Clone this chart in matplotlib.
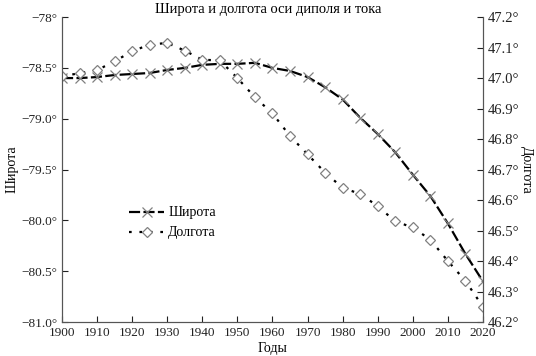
import matplotlib.pyplot as plt
import numpy as np

plt.rcParams['font.family'] = ['Liberation Serif', 'DejaVu Serif']
plt.rcParams['axes.unicode_minus'] = True

# годы и значения
years = [1900, 1905, 1910, 1915, 1920, 1925, 1930, 1935, 1940, 1945, 1950, 1955,
         1960, 1965, 1970, 1975, 1980, 1985, 1990, 1995, 2000, 2005, 2010, 2015, 2020]
lat = [-78.60, -78.60, -78.59, -78.57, -78.56, -78.55, -78.52, -78.50, -78.47, -78.46,
       -78.46, -78.45, -78.50, -78.53, -78.59, -78.69, -78.81, -78.99, -79.15, -79.33,
       -79.55, -79.76, -80.03, -80.33, -80.60]
lon = [47.006, 47.016, 47.026, 47.055, 47.088, 47.110, 47.115, 47.090, 47.060, 47.058,
       47.000, 46.937, 46.884, 46.810, 46.750, 46.690, 46.640, 46.620, 46.580, 46.530,
       46.510, 46.470, 46.400, 46.335, 46.250]

lat_ticks = [-78.0, -78.5, -79.0, -79.5, -80.0, -80.5, -81.0]
lat_labels = ["−78°", "−78.5°", "−79.0°", "−79.5°", "−80.0°", "−80.5°", "−81.0°"]
lon_ticks = [46.2, 46.3, 46.4, 46.5, 46.6, 46.7, 46.8, 46.9, 47.0, 47.1, 47.2]
lon_labels = [f"{v:.1f}°" for v in lon_ticks]
x_ticks = list(range(1900, 2021, 10))

fig = plt.figure(figsize=(5.36, 3.56), dpi=100)
ax = fig.add_axes([0.1157, 0.0955, 0.7853, 0.8565])
ax2 = ax.twinx()

l1, = ax.plot(years, lat, color="black", linestyle=(0, (5, 1.5)), linewidth=1.6,
              marker="x", markersize=6.5, markeredgecolor="#808080", markeredgewidth=0.9,
              label="Широта")
l2, = ax2.plot(years, lon, color="black", linestyle=(0, (1.2, 3.5)), linewidth=1.6,
               marker="D", markersize=5, markerfacecolor="white", markeredgecolor="#808080",
               markeredgewidth=0.9, label="Долгота")

ax.set_xlim(1900, 2020)
ax.set_ylim(-81, -78)
ax2.set_ylim(46.2, 47.2)
ax.set_xticks(x_ticks)
ax.set_yticks(lat_ticks)
ax.set_yticklabels(lat_labels)
ax2.set_yticks(lon_ticks)
ax2.set_yticklabels(lon_labels)

for a in (ax, ax2):
    a.spines['top'].set_visible(False)
    a.tick_params(direction="in", length=4, width=0.8, labelsize=9.5, colors="#222222")
    for s in a.spines.values():
        s.set_color("#555555")
ax2.tick_params(labelsize=10.5)

ax.set_xlabel("Годы", fontsize=10, labelpad=2)
ax.set_ylabel("Широта", fontsize=10, labelpad=2)
ax2.set_ylabel("Долгота", fontsize=10, rotation=270, labelpad=10)
fig.text(0.5, 0.972, "Широта и долгота оси диполя и тока", ha="center", va="center", fontsize=10.5)

ax.legend(handles=[l1, l2], loc="upper left", bbox_to_anchor=(0.13, 0.42), frameon=False,
          fontsize=10, handlelength=2.5, handletextpad=0.3, labelspacing=0.5)

fig.savefig("out.png", dpi=100)
